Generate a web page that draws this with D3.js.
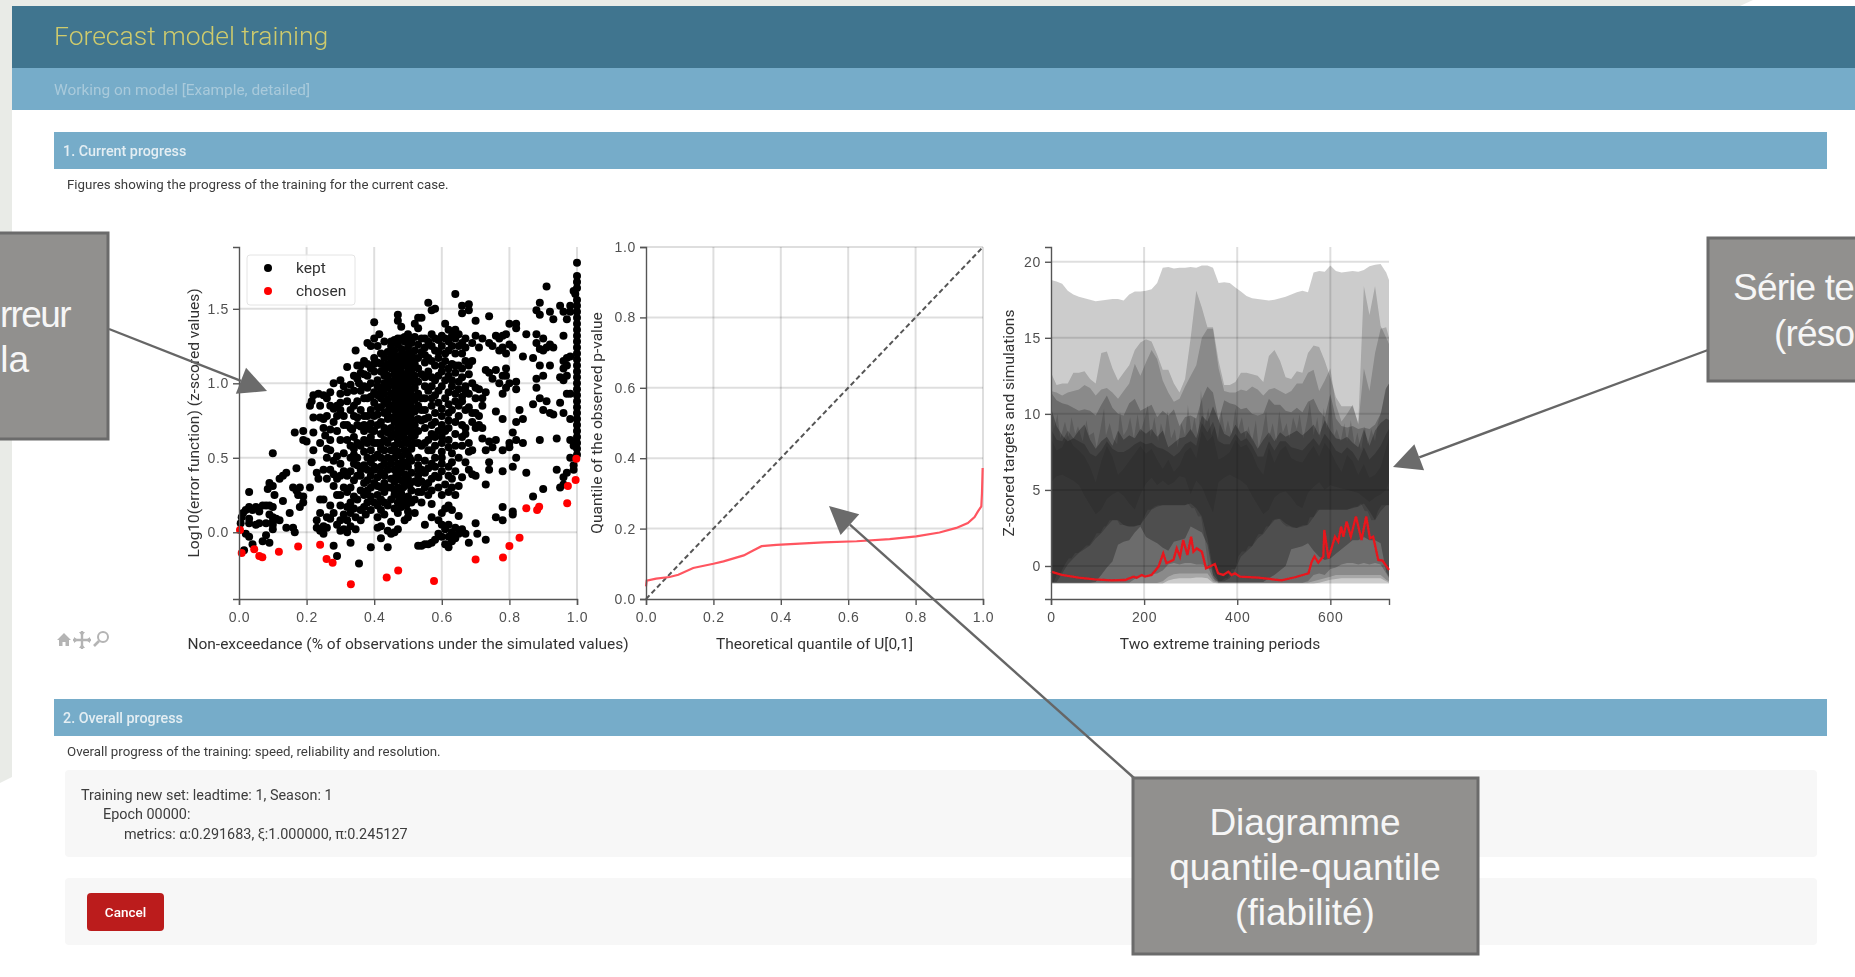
<!DOCTYPE html>
<html>
<head>
<meta charset="utf-8">
<script src="https://cdn.jsdelivr.net/npm/d3@7"></script>
<style>
  html, body { margin: 0; padding: 0; background: #fff; overflow: hidden; }
  svg { display: block; font-family: Roboto, sans-serif; }
  .tick text { font-size: 14px; letter-spacing: 0.7px; fill: #505050; }
  .domain, .tick line { stroke: #555; stroke-width: 1.4; }
  .axisLabel { font-size: 15.5px; fill: #333; text-anchor: middle; }
  .callout { font-family: "Liberation Sans", Arial, sans-serif; font-size: 37px; fill: #f6f6f6; text-anchor: middle; }
</style>
</head>
<body>
<script>
// chart values
const keptPoints = [
  [.005,.06],[.008,.1],[.012,.13],[.02,.15],[.03,.17],[.03,.09],[.04,.15],[.05,.17],[.06,.14],[.07,.18],[.08,.18],[.09,.18],[.1,.17],[.09,.12],[.1,.1],[.11,.09],[.12,.08],[.1,.07],[.08,.06],[.06,.06],[.05,.05],[.03,.06],[.02,-.01],[.03,-.03],[.04,-.08],[.07,-.06],[.08,-.02],[.09,-.07],[.1,.05],[.1,.02],[.015,-.12],[.03,.27],[.09,.33],[.085,.29],[.1,.31],[.105,.25],[.1,.53],[.12,.36],[.13,.38],[.14,.4],[.17,.43],[.13,.21],[.15,.13],[.14,.03],[.16,.03],[.165,0],[.16,.3],[.17,.28],[.18,.3],[.175,.25],[.19,.24],[.19,.2],[.18,.17],[.21,.3],[.165,.67],[.19,.68],[.19,.62],[.2,.61],[.22,.67],[.215,.47],
  [.23,.08],[.23,.03],[.24,.01],[.25,-.01],[.25,.04],[.24,.22],[.23,.4],[.235,.36],[.25,.42],[.26,.36],[.21,.85],[.215,.88],[.22,.92],[.235,.93],[.25,.92],[.27,.94],[.22,.77],[.24,.77],[.25,.76],[.25,.7],[.255,.65],[.26,.56],[.27,.55],[.27,.69],[.28,.48],[.26,.5],[.28,1],[.27,.85],[.29,.85],[.3,.87],[.28,.83],[.3,.82],[.31,.72],[.3,.62],[.29,.51],[.3,.46],[.31,.41],[.3,.38],[.28,.31],[.29,.25],[.27,.18],[.28,.13],[.27,.09],[.29,.05],[.31,.02],[.32,0],[.28,-.09],[.29,-.16],[.33,-.07],[.355,-.21],[.31,.98],[.32,.94],[.33,.99],[.3,1.02],
  [.32,.72],[.33,.7],[.335,.69],[.35,.72],[.36,.71],[.34,.56],[.33,.5],[.34,.46],[.32,.38],[.31,.3],[.33,.3],[.34,.24],[.32,.17],[.33,.13],[.345,.1],[.36,.08],[.32,.08],[.33,.04],[.345,.02],[.35,.45],[.36,.38],[.37,.25],[.38,.2],[.375,.12],[.35,.77],[.36,.82],[.34,1.05],[.35,1.03],[.34,.95],[.355,1],[.36,.95],[.37,.98],[.345,1.22],[.32,1.11],[.35,1.12],[.37,1.15],[.38,1.13],[.38,1.27],[.39,1.25],[.4,1.3],[.41,1.25],[.4,1.41],[.415,1.33],[.4,1.17],[.42,1.2],[.43,1.17],[.39,-.1],[.42,.04],[.42,-.04],[.44,-.1],[.41,.03],[.44,.01],[.45,-.01],[.46,0],[.47,.02],[.45,.07],[.49,.08],[.5,.1],[.52,.13],[.5,.14],
  [.37,.54],[.38,.5],[.39,.55],[.4,.5],[.41,.52],[.37,.45],[.38,.42],[.39,.38],[.38,.35],[.4,.33],[.41,.37],[.42,.3],[.41,.25],[.4,.2],[.42,.22],[.43,.27],[.42,.15],[.41,.1],[.43,.12],[.37,.62],[.39,.64],[.41,.6],[.42,.66],[.38,.7],[.39,.73],[.41,.72],[.4,.78],[.42,.74],[.43,.7],[.37,.78],[.39,.82],[.41,.84],[.43,.8],[.38,.9],[.4,.94],[.42,.9],[.44,.86],[.39,1],[.41,1.02],[.43,.97],[.38,1.05],[.4,1.08],[.42,1.08],[.44,1.04],[.36,1.07],[.41,.92],[.4,.87],[.43,.93],[.44,1.12],[.43,1.28],[.45,1.2],[.46,1.14],[.44,.5],[.45,.55],[.44,.42],[.45,.36],[.44,.3],[.46,.28],[.45,.22],[.47,.2],[.46,.16],[.44,.18],[.48,.17],[.49,.22],
  [.46,1.29],[.48,1.3],[.5,1.33],[.52,1.31],[.54,1.3],[.45,1.25],[.47,1.26],[.49,1.28],[.51,1.27],[.53,1.26],[.55,1.24],[.44,1.21],[.46,1.22],[.48,1.23],[.5,1.24],[.52,1.22],[.54,1.21],[.45,1.17],[.47,1.18],[.49,1.19],[.51,1.2],[.53,1.17],[.44,1.13],[.46,1.14],[.48,1.15],[.5,1.16],[.52,1.13],[.55,1.14],[.43,1.09],[.45,1.1],[.47,1.11],[.49,1.12],[.51,1.09],[.53,1.1],[.44,1.05],[.46,1.06],[.48,1.07],[.5,1.08],[.52,1.05],[.54,1.06],[.45,1.01],[.47,1.02],[.49,1.03],[.51,1.04],[.53,1.01],[.43,1],[.44,.97],[.46,.98],[.48,.99],[.5,1],[.52,.97],[.55,.98],[.45,.93],[.47,.94],[.49,.95],[.51,.96],[.53,.93],[.44,.89],[.46,.9],[.48,.91],[.5,.92],[.52,.89],[.54,.9],[.45,.85],[.47,.86],[.49,.87],[.51,.88],[.53,.85],[.44,.81],[.46,.82],[.48,.83],[.5,.84],[.52,.81],[.45,.77],[.47,.78],[.49,.79],[.51,.8],[.53,.76],[.46,.74],[.48,.75],[.5,.76],[.52,.72],[.47,.7],[.49,.71],[.51,.72],[.46,.66],[.48,.67],[.5,.68],[.47,.62],[.49,.63],[.51,.64],[.46,.58],[.48,.59],[.5,.6],[.52,.6],[.47,.54],[.49,.55],[.51,.56],[.46,.5],[.48,.51],[.5,.52],[.47,.46],[.49,.47],[.51,.48],[.53,.5],[.46,.42],[.48,.43],[.5,.44],[.47,.38],[.49,.39],[.51,.4],[.46,.34],[.48,.35],[.5,.36],[.52,.34],[.47,.3],[.49,.31],[.51,.28],[.46,.25],[.48,.26],[.5,.24],[.52,.22],[.47,.13],[.48,.2],
  [.56,1.54],[.57,1.49],[.58,1.5],[.64,1.6],[.66,1.52],[.66,1.47],[.68,1.49],[.68,1.53],[.7,1.42],[.74,1.45],[.47,1.46],[.47,1.42],[.48,1.38],[.53,1.44],[.54,1.44],[.52,1.4],[.53,1.37],[.61,1.4],[.62,1.36],[.64,1.36],[.58,1.3],[.6,1.32],[.62,1.28],[.64,1.3],[.66,1.27],[.56,1.28],[.58,1.22],[.6,1.25],[.62,1.22],[.64,1.2],[.66,1.2],[.57,1.15],[.59,1.17],[.61,1.15],[.63,1.13],[.65,1.12],[.56,1.08],[.6,1.08],[.62,1.05],[.64,1.07],[.66,1.04],[.58,1.02],[.6,.98],[.63,.98],[.65,.96],[.56,.95],[.58,.92],[.61,.9],[.64,.88],[.57,.85],[.6,.83],[.62,.8],[.65,.85],[.67,.82],[.56,.77],[.58,.74],[.6,.72],[.62,.7],[.64,.74],[.66,.72],[.55,.7],[.57,.66],[.6,.64],[.62,.62],[.58,.58],[.56,.55],[.6,.54],[.63,.53],[.65,.5],[.55,.48],[.57,.46],[.6,.46],[.62,.44],[.64,.41],[.55,.4],[.58,.38],[.56,.33],[.53,.27],[.54,.2],[.57,.19],[.59,.3],[.6,.25],[.62,.27],[.65,.31],[.66,.37],[.63,.36],[.61,.16],[.63,.15],[.65,.11],[.57,.1],[.59,.08],[.55,.05],
  [.6,.05],[.61,.02],[.62,.05],[.63,0],[.64,.03],[.65,-.01],[.66,.02],[.67,-.01],[.68,-.07],[.6,-.03],[.62,-.03],[.63,-.06],[.64,-.04],[.61,-.08],[.62,-.1],[.57,-.07],[.58,-.05],[.59,-.01],[.55,-.08],[.56,-.08],[.53,-.09],[.54,-.09],[.7,.06],[.705,-.01],[.73,-.05],
  [.68,.42],[.69,.39],[.7,.38],[.73,.32],[.74,.42],[.74,.47],[.73,.55],[.72,.63],[.74,.61],[.76,.62],[.7,.7],[.72,.7],[.69,.74],[.71,.78],[.7,.8],[.76,.81],[.78,.76],[.66,.91],[.68,.93],[.7,.97],[.71,.96],[.73,.94],[.75,1.03],[.74,1.07],[.76,1.09],[.73,1.09],[.77,1],[.79,.97],[.78,.93],[.8,1],[.82,1.01],[.82,.96],[.69,1.27],[.71,1.24],[.72,1.3],[.74,1.27],[.75,1.25],[.76,1.32],[.77,1.3],[.78,1.32],[.79,1.33],[.8,1.4],[.82,1.4],[.82,1.37],[.85,1.33],[.84,1.18],[.79,1.2],[.78,1.24],[.77,1.22],[.8,1.26],[.81,1.24],[.7,1.32],
  [.79,1.05],[.79,1.1],[.78,1.05],[.83,.82],[.82,.74],[.84,.76],[.81,.67],[.82,.62],[.84,.6],[.8,.6],[.8,.57],[.78,.55],[.82,.5],[.81,.44],[.78,.41],[.85,.4],[.78,.17],[.76,.1],[.78,.08],[.81,.14],[.81,.12],[.87,.24],[.9,.29],[.96,.32],[.95,.3],[.96,.37],[.94,.42],[.97,.4],[.99,.42],[.99,.45],
  [.88,1.49],[.89,1.54],[.89,1.46],[.91,1.65],[.92,1.48],[.93,1.43],[.95,1.52],[.96,1.48],[.97,1.43],[.98,1.48],[.98,1.52],[.96,1.32],[.92,1.26],[.91,1.24],[.88,1.33],[.88,1.27],[.9,1.3],[.9,1.22],[.89,1.23],[.93,1.24],[.87,1.17],[.89,1.12],[.92,1.12],[.88,1.03],[.9,1.05],[.88,.97],[.89,.9],[.87,.86],[.9,.82],[.92,.8],[.93,.79],[.91,.88],[.96,.8],[.95,.87],[.98,.76],[.94,.63],[.89,.62],[.96,1.02],[.95,1.04],[.97,1.05],[.96,1.1],[.97,1.17],[.96,1.15],[.98,1.18],[.97,1.12],[.98,.93],[.97,.93],[.98,.62],[.99,.58],[.98,.5],
  [1,1.81],[1,1.72],[1,1.68],[1,1.64],[.995,1.6],[.99,1.62],[1,1.56],[1,1.52],[1,1.48],[1,1.44],[1,1.4],[1,1.36],[1,1.32],[1,1.28],[1,1.24],[1,1.2],[1,1.16],[1,1.12],[1,1.08],[1,1.04],[1,1],[1,.96],[1,.92],[1,.88],[1,.84],[1,.8],[1,.76],[1,.72],[1,.68],[1,.64],[1,.6],[1,.56],[1,.52],
  [.24,.6],[.22,.55],[.27,.62],[.29,.68],[.26,.78],[.28,.74],[.29,.78],[.24,.85],[.26,.9],[.3,.93],[.32,.88],[.31,.78],[.33,.82],[.34,.85],[.32,.62],[.34,.64],[.35,.6],[.33,.58],[.31,.53],[.34,.52],[.36,.58],[.35,.5],[.37,.68],[.34,.78],[.35,.88],[.37,.9],[.36,1.12],[.39,1.1],[.37,1.06],[.38,.97],[.36,.42],[.35,.38],[.33,.41],[.34,.35],[.37,.33],[.36,.28],[.35,.22],[.38,.28],[.39,.15],[.37,.17],[.36,.15],[.34,.16],[.31,.12],[.3,.18],[.3,.25],[.32,.27],[.29,.36],[.27,.42],[.28,.39],[.25,.22],[.26,.1],[.24,.13],[.26,.03],[.3,.08],[.3,.01],[.33,.2],[.4,.42],[.42,.44],[.43,.38],[.43,.55],[.44,.6],[.45,.64],[.43,.62],[.42,.56],[.45,.46],[.42,.5],[.43,.46],
  [.41,.98],[.42,.96],[.43,.87],[.42,.84],[.41,.79],[.44,.76],[.45,.7],[.44,.67],[.43,1.05],[.42,1.13],[.41,1.14],[.39,.91],[.4,1.13],[.38,.78],[.39,.69],[.37,.72],[.4,.68],[.4,.6],[.42,.6],[.4,.44],[.38,.6],[.39,.47],[.39,.3],[.41,.31],[.43,.33],[.39,.24],[.41,.18],[.43,.2],[.45,.3],[.42,.4],
  [.55,1.3],[.57,1.33],[.59,1.29],[.61,1.3],[.63,1.32],[.65,1.33],[.67,1.3],[.57,1.25],[.59,1.21],[.61,1.2],[.63,1.25],[.65,1.25],[.67,1.24],[.55,1.19],[.56,1.17],[.58,1.12],[.6,1.12],[.62,1.1],[.64,1.12],[.66,1.1],[.67,1.15],[.55,1.04],[.57,1.04],[.59,1.05],[.61,1.02],[.63,1.02],[.65,1.01],[.67,.98],[.57,.98],[.59,.95],[.62,.94],[.64,.93],[.66,.88],[.55,.9],[.57,.9],[.59,.87],[.62,.86],[.63,.82],[.55,.82],[.58,.8],[.6,.78],[.62,.75],[.65,.78],[.67,.7],[.55,.76],[.57,.72],[.59,.68],[.61,.68],[.64,.66],[.66,.64],[.56,.62],[.58,.64],[.6,.6],[.62,.57],[.64,.58],[.54,.58],[.55,.6],[.57,.55],[.58,.5],[.6,.5],[.63,.47],[.53,.45],[.54,.42],[.56,.43],[.58,.44],[.6,.41],[.62,.38],[.53,.38],[.54,.34],[.55,.3],[.57,.36],[.59,.37],[.57,.28],[.56,.25],[.54,.27],[.61,.32],[.63,.3],[.62,.18],[.6,.13],[.64,.25],
  [.68,1.12],[.69,1.15],[.68,1.06],[.69,1],[.67,.95],[.68,.84],[.69,.8],[.67,.66],[.68,.6],[.66,.58],[.68,.54],[.67,.47],[.69,.55],[.7,.9],[.72,.9],[.72,.85],[.71,.72],[.75,.57],
  [.455,1.15],[.475,1.07],[.495,1.05],[.485,1.2],[.505,1.12],[.465,1],[.485,.96],[.505,.9],[.475,.88],[.495,.82],[.465,.8],[.485,.74],[.505,.7],[.475,.66],[.495,.6],[.465,.54],[.485,.47],[.505,.5],[.475,.42],[.495,.35],[.465,.38],[.485,.3],[.505,.32],[.475,.23],[.495,.18],[.51,.2],[.53,.33],[.53,.6],[.53,.68],[.54,.75],[.54,.82],[.52,.65],[.53,.42],
  [.45,1.28],[.47,1.3],[.49,1.31],[.51,1.3],[.46,1.18],[.48,1.19],[.5,1.2],[.52,1.17],[.47,1.15],[.49,1.16],[.51,1.14],[.46,1.1],[.48,1.11],[.5,1.12],[.47,1.03],[.49,1.01],[.51,1.01],[.46,1.02],[.48,1.03],[.5,1.04],[.47,.97],[.49,.98],[.51,.92],[.46,.94],[.48,.95],[.5,.96],[.47,.9],[.49,.91],[.46,.86],[.48,.87],[.5,.88],[.47,.82],[.49,.83],[.51,.84],[.48,.79],[.5,.8],[.47,.74],[.49,.75],[.51,.76],[.48,.71],[.5,.72],[.47,.66],[.49,.67],[.51,.68]
];
const chosenPoints = [
  [.003,.016],[.008,-.14],[.045,-.114],[.06,-.16],[.069,-.168],[.118,-.13],[.175,-.096],[.24,-.083],[.259,-.179],[.277,-.204],[.331,-.349],[.437,-.304],[.471,-.257],[.577,-.327],[.7,-.183],[.781,-.17],[.8,-.092],[.83,-.036],[.85,.161],[.882,.15],[.888,.172],[.971,.195],[.973,.311],[.996,.351],[.998,.494]
];

const qqTheoretical = [0,.002,.03,.07,.096,.14,.2,.23,.29,.318,.343,.387,.526,.625,.723,.802,.871,.921,.955,.975,.985,.995,.997,.999];
const qqObserved = [.036,.052,.058,.0625,.069,.088,.1,.107,.124,.138,.15,.154,.161,.164,.17,.178,.189,.202,.216,.233,.249,.263,.301,.372];

const gridX = [
  0,12,24,36,48,60,72,84,96,108,120,132,
  144,156,168,180,192,204,216,228,240,252,264,276,
  288,300,312,324,336,348,360,372,384,396,408,420,
  432,444,456,468,480,492,504,516,528,540,552,564,
  576,588,600,612,624,636,648,660,672,684,696,708,
  720,726];
const bandFloor = -1.15;
const topA = [
  18.8,18.7,18.55,18.1,17.85,17.7,17.6,17.5,17.4,17.45,17.5,17.55,
  17.55,17.45,17.85,18.05,18.05,18.1,18.2,18.6,19.6,19.65,19.55,19.6,
  19.6,19.65,19.6,19.75,19.75,19.6,18.6,18.65,18.6,18.3,18.05,17.75,
  17.6,17.55,17.5,17.45,17.5,17.6,17.7,17.85,18,18.1,18,19.3,
  19.4,19.35,19.75,19.4,19.3,19.35,19.4,19.35,19.45,19.7,19.8,19.85,
  19.3,18.8];
const topB = [
  12.7,11.9,12,12,12.7,12.7,12.8,12.3,12,14,14.1,13,
  12.2,12.7,13.2,14.2,14.7,14.9,14.75,13.9,12.9,12.9,12,11.4,
  12.3,15,18.1,17,15.7,15.7,13.5,11.9,11.9,12.1,12.7,12.7,
  12.6,12.5,12.1,13.8,14.2,13.5,12.4,12.3,12.8,12.7,14,14.5,
  14.4,13.5,12.4,11.1,10.5,10.5,10.5,9.4,18.4,16.5,18.4,15.8,
  15,14.6];
const lowB = [
  -1.15,-1.15,-1.15,-1.15,-1.15,-1.15,-1.15,-1.15,-1.15,-1.15,-1.15,-1.15,
  -1.15,-1.15,-1.15,-1.15,-1.15,-1.15,-1.15,-1.15,-1.15,-.95,-.85,-.8,
  -.8,-.8,-.75,-.75,-.8,-1.1,-1.15,-1.15,-1.15,-1.15,-1.15,-1.15,
  -1.15,-1.15,-1.15,-1.15,-1.15,-1.15,-1.15,-1.15,-1.15,-1.15,-1.15,-1.15,
  -1.1,-1,-.9,-.85,-.8,-.8,-.8,-.8,-.8,-.8,-.8,-.8,
  -1,-1.1];
const topC = [
  11.5,11.4,11.2,11.4,11.5,11.6,11.9,11.7,11.2,11.6,11.7,11.4,
  11,11.5,12,13.3,12.5,13.4,14.2,13.6,12.2,11.4,10.8,11,
  11.8,12.5,13.2,15,15.6,15.6,13,11.5,11.4,11.4,11.6,11.5,
  11.8,11.6,11.2,11.6,11.7,11.5,11.3,11.5,12,12,12.7,12.9,
  11.5,12.2,13,10.6,9.5,10,10.6,9.3,13,11.5,14,15.6,
  15.7,15];
const lowC = [
  -1.12,-1.12,-1.12,-1.12,-1.12,-1.12,-1.12,-1.12,-1.12,-1.12,-1.12,-1.12,
  -1.12,-1.12,-1.12,-1.12,-1.12,-1.12,-1.12,-1.12,-1,-.7,-.55,-.5,
  -.5,-.5,-.5,-.5,-.5,-1,-1.12,-1.12,-1.12,-1.12,-1.12,-1.12,
  -1.12,-1.12,-1.12,-1.12,-1.12,-1.12,-1.12,-1.12,-1.12,-1.12,-1.1,-1,
  -.9,-.8,-.7,-.6,-.6,-.6,-.6,-.6,-.6,-.6,-.6,-.6,
  -.9,-1];
const topD = [
  11.4,10.9,10.7,10.6,10.4,10.2,10.3,10.2,9.9,10.6,11.2,10.4,
  10,9.9,10.7,11,10.2,10.4,10.6,9.8,10.2,9.9,10.3,9.2,
  9.8,9.9,9.7,11,11.8,11.4,9.6,10.9,10.7,10.6,10.3,10.4,
  10,9.9,10,11,10.6,10.6,10.2,10.1,10.4,10.1,10.8,11,
  10.2,9.8,11.3,9.7,9.2,9.1,9.2,9,9.1,9,9.3,10,
  11.7,12];
const lowD = [
  -1.1,-1.1,-1.1,-1.1,-1.1,-1.1,-1.1,-1.1,-1.1,-1.1,-1.1,-1.1,
  -1.1,-1.1,-1.1,-.85,-.7,-.6,-.55,-.5,-.3,.1,.2,.1,
  .2,.2,.1,.1,0,-.8,-1.1,-1.1,-1.1,-1.1,-1.1,-1.1,
  -1.1,-1.1,-1.1,-1.1,-1.1,-1.1,-1.1,-1.1,-1.1,-1.1,-1,-.6,
  -.5,-.6,-.2,-.1,.1,.2,.2,.1,.2,.1,.2,.1,
  -.5,-.8];
const topE = [
  10.4,9.2,8.6,8.2,8.4,8.9,9.3,8.3,7.7,8.2,8.5,7.9,
  8.9,8.3,8.6,8.4,9,8.7,9,8.5,8.9,7.8,8.1,8.4,
  8.5,9,8.4,9.9,9.5,10.5,9.6,8.7,8.5,9.3,8.7,8.9,
  8.4,7.7,8.3,8.8,8.2,8.8,8.5,8.7,8.9,8.6,8.9,9.3,
  8.6,9.6,8.9,8.4,8.3,8.5,8.1,7.8,9,7.9,8.9,9.4,
  9.7,9.6];
const lowE = [
  -1.1,-1.1,-1.1,-1.1,-1.1,-1.1,-1.1,-1.1,-1.05,-.6,-.1,.3,
  1.4,1.6,1.7,2.2,2.6,1.9,1.7,1.5,1.2,1,1.6,1.7,
  1.8,2.6,2.4,2.2,1.4,-.6,-1.05,-1.05,-1.05,-1.05,-1.05,-1.05,
  -1.05,-1.05,-1.05,-.8,-.6,-.3,0,1.1,1.2,1.3,1.5,1,
  .6,.4,.5,.8,1.1,1.4,1.7,1.7,1.9,1.7,1.7,1.5,
  -.4,-.7];
const topF = [
  9,8.3,8.2,8.9,8.4,8.2,8,7.4,7.2,7.6,8.2,7.7,
  7.5,7.5,7.7,8,8.2,8,8.1,7.8,7.7,7.5,7.2,7.5,
  8,8.2,7.9,9.4,8.8,9.5,8.2,8,8,8.7,8.2,8.4,
  7.9,7.2,7.2,8.2,7.6,8.2,8.2,7.8,7.7,7.6,8,8.4,
  7.9,8.7,8.2,7.6,7.4,7.8,7.5,6.9,7.8,7,7.4,7.9,
  8.7,9];
const lowF = [
  -1.05,-1.05,-.5,.1,.5,.85,1.1,1.35,1.8,2.15,2.6,3,
  3,2.7,2.6,2.6,2.7,3.2,3.7,3.9,4,4,4,4,
  4,4.1,3.8,3.25,1.8,-.2,-1,-1,-.8,-.2,.6,.95,
  1.3,1.8,2.1,2.6,3,3.1,2.8,2.6,2.5,2.6,2.7,3.2,
  3.7,3.7,3.7,3.7,3.7,3.7,3.8,3.9,4.1,3.6,3,3.6,
  4,4];
const topG = [
  8.4,7.6,7.8,8.6,7.9,7.6,7.2,6.5,5.5,6.9,7.9,7.2,
  6,6.4,6.9,7.4,7.9,7.4,7.7,7,6.4,7,6.2,6.6,
  7.5,7.8,7.1,8.9,8.2,8.6,7,7.2,7.5,8.3,7.8,8,
  7.4,6.5,6,7.8,6.8,7.6,7.9,7.1,6.9,6.8,7.4,7.9,
  7.2,8.1,7.6,6.8,6.2,7.3,6.9,6,6.7,5.8,6,6.5,
  7.8,8.5];
const lowG = [
  5.5,5.9,6,5.8,5.6,5.3,4.6,4,3.4,3.7,4.4,4.7,
  4.9,4.6,4.1,3.7,4.7,5.4,5.8,5.3,5.6,5.3,5.5,5.9,
  5.8,4.7,5.6,5.2,4.3,3.5,5.5,5.8,6,5.8,5.6,5.3,
  4.6,4,3.4,3.7,4.5,4.8,4.9,4.5,4,3.8,4.8,5.2,
  5.5,5,5.3,5.2,5.1,5,4.9,4.8,4.5,4.2,4.5,4.7,
  5,5.5];

// jagged dark spikes between 7 and 12
const spikeX = [
  0,6,14,20,30,38,44,52,58,68,
  76,82,92,98,106,114,118,126,134,142,
  148,156,164,170,178,186,192,200,208,214,
  222,230,236,244,250,258,266,272,280,288,
  294,302,308,316,322,330,338,344,352,358,
  366,374,380,388,396,402,410,418,424,432,
  440,446,454,462,468,476,484,490,498,506,
  512,520,528,534,542,550,556,564,572,578,
  586,592,600,608,614,622,630,636,644,652,
  658,666,674,680,688,696,702,710,718,726];
const spikeTop = [
  11,9,10,8.4,9.5,8.5,9.8,8.7,9.2,8.2,
  9.6,8.6,8.8,7.8,9,10.4,8.6,9.4,8.4,8,
  10.2,8.6,9,9.8,8.4,10,8.8,9.6,10.6,8.5,
  9.8,8.2,9.4,8.6,10.2,8.4,9,7.8,9.4,8.6,
  10.6,8.8,9.8,8.4,11.6,9.2,10.4,8.6,9.2,8.2,
  10.2,8.8,9.6,8.6,10.4,9,9.8,8.4,9.2,8.2,
  9.6,7.8,8.8,10.2,8.4,9.4,8.2,10.2,8.8,9.4,
  8.4,9.8,9,10,8.4,9.6,10.8,8.6,9.8,8.4,
  10.4,9,11.2,8.6,9,8.2,9.4,8.2,9.6,8,
  8.8,7.6,9.2,8,9,8.2,9.4,10.2,11.6,12];

const targetX = [0,23,59,94,130,159,177,184,195,202,216,231,241,248,263,270,277,284,293,301,306,313,324,333,352,359,370,381,388,395,406,445,495,524,553,560,566,574,585,587,596,610,617,623,628,635,644,655,667,677,685,692,703,712,726];
const targetY = [-.37,-.59,-.77,-.88,-.94,-.92,-.7,-.77,-.59,-.7,-.59,-.04,.83,.18,.4,1.16,.61,1.71,.72,1.93,.94,1.16,.94,-.15,.13,-.48,-.59,-.37,-.59,-.48,-.7,-.77,-.94,-.74,-.48,.29,.62,.22,.62,2.37,.5,1.93,1.6,2.59,1.93,2.92,1.93,3.25,1.71,3.25,1.82,1.93,.4,.35,-.26];

const tickFrac = [0,.2,.4,.6,.8,1];
const tickLoss = [0,.5,1,1.5];
const tickPeriod = [0,200,400,600];
const tickZ = [0,5,10,15,20];

const width = 1855, height = 977;
const svg = d3.select("body").append("svg").attr("width", width).attr("height", height);

const defs = svg.append("defs");
defs.append("filter").attr("id", "soft")
  .attr("filterUnits", "userSpaceOnUse")
  .attr("x", 0).attr("y", 0).attr("width", width).attr("height", height)
  .append("feGaussianBlur").attr("stdDeviation", 0.6);

// slide background behind the screenshot
svg.append("path").attr("d", "M0,0L1753,0L1740,6L12,6L12,777L0,783Z").attr("fill", "#e9ebe7");

const page = svg.append("g").attr("filter", "url(#soft)");

page.append("rect").attr("x", 12).attr("y", 6).attr("width", 1843).attr("height", 62).attr("fill", "#40758f");
page.append("rect").attr("x", 12).attr("y", 68).attr("width", 1843).attr("height", 42).attr("fill", "#76acc9");
page.append("text").attr("x", 54).attr("y", 45).text("Forecast model training")
  .style("font-size", "26.5px").style("font-weight", 300).attr("fill", "#cfcb6c");
page.append("text").attr("x", 54).attr("y", 95).text("Working on model [Example, detailed]")
  .style("font-size", "15.4px").attr("fill", "#a9cadb");

function sectionBar(y, label) {
  page.append("rect").attr("x", 54).attr("y", y).attr("width", 1773).attr("height", 37).attr("fill", "#76acc9");
  page.append("text").attr("x", 63).attr("y", y + 24).text(label)
    .style("font-size", "14.3px").style("font-weight", 500).attr("fill", "#e4eef3");
}
sectionBar(132, "1. Current progress");
sectionBar(699, "2. Overall progress");

function bodyText(x, y, label, size) {
  page.append("text").attr("x", x).attr("y", y).text(label)
    .style("font-size", size + "px").attr("fill", "#3c3c3c");
}
bodyText(67, 189, "Figures showing the progress of the training for the current case.", 13.3);
bodyText(67, 756, "Overall progress of the training: speed, reliability and resolution.", 13.3);

page.append("rect").attr("x", 65).attr("y", 770).attr("width", 1752).attr("height", 87).attr("rx", 4).attr("fill", "#f7f7f7");
page.append("rect").attr("x", 65).attr("y", 878).attr("width", 1752).attr("height", 67).attr("rx", 4).attr("fill", "#f7f7f7");
bodyText(81, 800, "Training new set: leadtime: 1, Season: 1", 14.4);
bodyText(103, 819, "Epoch 00000:", 14.4);
bodyText(124, 839, "metrics: α:0.291683, ξ:1.000000, π:0.245127", 14.4);
page.append("rect").attr("x", 87).attr("y", 893).attr("width", 77).attr("height", 38).attr("rx", 4).attr("fill", "#bb1f1f");
page.append("text").attr("x", 125.5).attr("y", 917).attr("text-anchor", "middle").text("Cancel")
  .style("font-size", "13.5px").style("font-weight", 500).attr("fill", "#fff");

// toolbar icons under the first plot
const tools = page.append("g").attr("fill", "#b4b4b4").attr("stroke", "#b4b4b4");
tools.append("path").attr("d", "M57,640L64,633L71,640L69,640L69,646L65.5,646L65.5,642L62.5,642L62.5,646L59,646L59,640Z").attr("stroke", "none");
tools.append("path").attr("d", "M73,640L91,640M82,631L82,649").attr("stroke-width", 2.4);
tools.append("path").attr("d", "M78,640L74,637L74,643ZM86,640L90,637L90,643ZM82,636L79,632L85,632ZM82,644L79,648L85,648Z").attr("stroke", "none");
tools.append("circle").attr("cx", 103).attr("cy", 637).attr("r", 5).attr("fill", "none").attr("stroke-width", 2);
tools.append("path").attr("d", "M99,641L94,646").attr("stroke-width", 2.6);

const plotTop = 247, plotBottom = 599;

function panel(left, right, xDomain, yDomain, xTicks, yTicks, xLabel, yLabel, labelX, xFormat, yFormat) {
  const x = d3.scaleLinear().domain(xDomain).range([left, right]);
  const y = d3.scaleLinear().domain(yDomain).range([plotBottom, plotTop]);
  const g = page.append("g");
  const marks = g.append("g");
  const grid = g.append("g").attr("stroke", "#000").attr("stroke-opacity", 0.13).attr("stroke-width", 2);
  grid.selectAll(".gx").data(xTicks.filter((d) => d !== xDomain[0])).join("line").attr("class", "gx")
    .attr("x1", (d) => x(d)).attr("x2", (d) => x(d)).attr("y1", plotTop).attr("y2", plotBottom);
  grid.selectAll(".gy").data(yTicks.filter((d) => d !== yDomain[0])).join("line").attr("class", "gy")
    .attr("y1", (d) => y(d)).attr("y2", (d) => y(d)).attr("x1", left).attr("x2", right);
  const over = g.append("g");
  g.append("g").attr("transform", `translate(0,${plotBottom})`)
    .call(d3.axisBottom(x).tickValues(xTicks).tickFormat(xFormat).tickSize(6).tickPadding(7));
  g.append("g").attr("transform", `translate(${left},0)`)
    .call(d3.axisLeft(y).tickValues(yTicks).tickFormat(yFormat).tickSize(6).tickPadding(4));
  g.append("text").attr("class", "axisLabel").attr("x", (left + right) / 2).attr("y", 649).text(xLabel);
  g.append("text").attr("class", "axisLabel")
    .attr("transform", `translate(${labelX},423) rotate(-90)`).text(yLabel);
  return { x, y, marks, over };
}

// scatter of the error function
const scatter = panel(239, 577, [0, 1], [-0.448, 1.915], tickFrac, tickLoss,
  "Non-exceedance (% of observations under the simulated values)",
  "Log10(error function) (z-scored values)", 199, d3.format(".1f"), d3.format(".1f"));
scatter.over.selectAll(".kept").data(keptPoints).join("circle").attr("class", "kept")
  .attr("cx", (d) => scatter.x(d[0])).attr("cy", (d) => scatter.y(d[1])).attr("r", 4).attr("fill", "#000");
scatter.over.selectAll(".chosen").data(chosenPoints).join("circle").attr("class", "chosen")
  .attr("cx", (d) => scatter.x(d[0])).attr("cy", (d) => scatter.y(d[1])).attr("r", 4).attr("fill", "#f00");
const legend = scatter.over.append("g");
legend.append("rect").attr("x", 247).attr("y", 255).attr("width", 108).attr("height", 50).attr("rx", 3)
  .attr("fill", "#fff").attr("fill-opacity", 0.85).attr("stroke", "#e4e4e4");
legend.append("circle").attr("cx", 268).attr("cy", 268).attr("r", 4).attr("fill", "#000");
legend.append("circle").attr("cx", 268).attr("cy", 291).attr("r", 4).attr("fill", "#f00");
legend.append("text").attr("x", 296).attr("y", 273).text("kept").style("font-size", "15.5px").attr("fill", "#333");
legend.append("text").attr("x", 296).attr("y", 296).text("chosen").style("font-size", "15.5px").attr("fill", "#333");

// quantile-quantile diagram
const qq = panel(646, 983, [0, 1], [0, 1], tickFrac, tickFrac,
  "Theoretical quantile of U[0,1]", "Quantile of the observed p-value", 602, d3.format(".1f"), d3.format(".1f"));
qq.over.append("path").datum(tickFrac)
  .attr("d", d3.line().x((d) => qq.x(d)).y((d) => qq.y(d)))
  .attr("fill", "none").attr("stroke", "#555").attr("stroke-width", 2).attr("stroke-dasharray", "5,3");
qq.over.append("path").datum(qqTheoretical)
  .attr("d", d3.line().x((d) => qq.x(d)).y((d, i) => qq.y(qqObserved[i])))
  .attr("fill", "none").attr("stroke", "#ff5560").attr("stroke-width", 2.2);

// shaded simulation bands and the target series
const series = panel(1051, 1389, [0, 726], [-2.17, 20.97], tickPeriod, tickZ,
  "Two extreme training periods", "Z-scored targets and simulations", 1014, d3.format("d"), d3.format("d"));
const bands = [
  { xs: gridX, top: topA, low: gridX.map(() => bandFloor), alpha: 0.2 },
  { xs: gridX, top: topB, low: lowB, alpha: 0.18 },
  { xs: gridX, top: topC, low: lowC, alpha: 0.18 },
  { xs: gridX, top: topD, low: lowD, alpha: 0.22 },
  { xs: gridX, top: topE, low: lowE, alpha: 0.28 },
  { xs: gridX, top: topF, low: lowF, alpha: 0.2 },
  // spikes sit on the same hill outline as band F
  { xs: spikeX, top: spikeTop, low: spikeX.map((d) => lowF[d3.bisectLeft(gridX, d)]), alpha: 0.15 },
  { xs: gridX, top: topG, low: lowG, alpha: 0.1 },
];
series.marks.selectAll("path").data(bands).join("path")
  .attr("d", (b) => d3.area()
    .x((d) => series.x(d))
    .y0((d, i) => series.y(b.low[i]))
    .y1((d, i) => series.y(b.top[i]))(b.xs))
  .attr("fill", "#000").attr("fill-opacity", (b) => b.alpha);
series.over.append("path").datum(targetX)
  .attr("d", d3.line().x((d) => series.x(d)).y((d, i) => series.y(targetY[i])))
  .attr("fill", "none").attr("stroke", "#e8141c").attr("stroke-width", 2.3);

// annotations laid over the screenshot
const notes = svg.append("g");
const noteFill = "#91908e", noteEdge = "#6b6b6b";

function arrow(x1, y1, x2, y2) {
  const a = Math.atan2(y2 - y1, x2 - x1), len = 28, half = 14;
  const bx = x2 - len * Math.cos(a), by = y2 - len * Math.sin(a);
  notes.append("line").attr("x1", x1).attr("y1", y1).attr("x2", bx).attr("y2", by)
    .attr("stroke", "#666").attr("stroke-width", 2.4);
  notes.append("polygon").attr("fill", noteEdge).attr("points", [
    [x2, y2],
    [bx - half * Math.sin(a), by + half * Math.cos(a)],
    [bx + half * Math.sin(a), by - half * Math.cos(a)],
  ].join(" "));
}
arrow(109, 329, 267, 391);
arrow(1134, 778, 829, 506);
arrow(1708, 350, 1393, 467);

function noteBox(x, y, w, h) {
  notes.append("rect").attr("x", x).attr("y", y).attr("width", w).attr("height", h)
    .attr("fill", noteFill).attr("stroke", noteEdge).attr("stroke-width", 3);
}
noteBox(-60, 233, 168, 206);
noteBox(1708, 238, 340, 143);
noteBox(1133, 778, 345, 176);

// boxes run off the slide, only the letters in view are kept, pulled in to fit
notes.append("text").attr("class", "callout").attr("x", 70).attr("y", 327).style("text-anchor", "end").style("letter-spacing", "-1.6px").text("rreur");
notes.append("text").attr("class", "callout").attr("x", 29).attr("y", 372).style("text-anchor", "end").text("la");
notes.append("text").attr("class", "callout").attr("x", 1733).attr("y", 300).style("text-anchor", "start").style("letter-spacing", "-0.8px").text("Série te");
notes.append("text").attr("class", "callout").attr("x", 1774).attr("y", 346).style("text-anchor", "start").style("letter-spacing", "-0.8px").text("(réso");
notes.append("text").attr("class", "callout").attr("x", 1305).attr("y", 835).text("Diagramme");
notes.append("text").attr("class", "callout").attr("x", 1305).attr("y", 880).text("quantile-quantile");
notes.append("text").attr("class", "callout").attr("x", 1305).attr("y", 925).text("(fiabilité)");
</script>
</body>
</html>
